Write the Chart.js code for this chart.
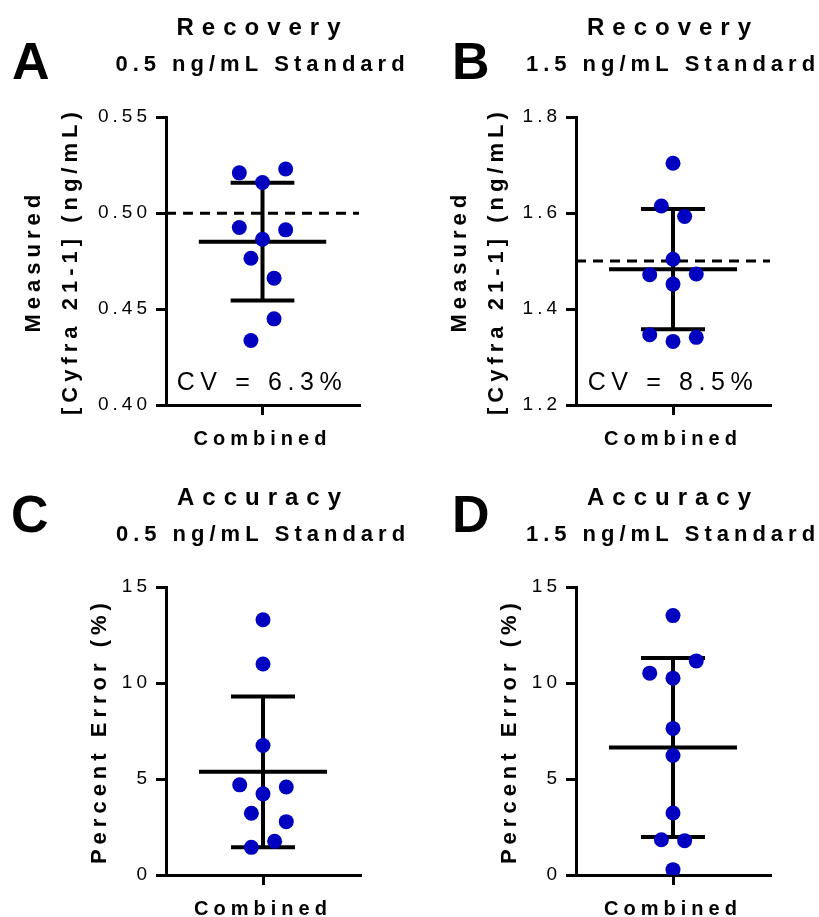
<!DOCTYPE html>
<html>
<head>
<meta charset="utf-8">
<script src="https://cdn.jsdelivr.net/npm/chart.js@4.4.1/dist/chart.umd.min.js"></script>
<style>
  body { margin: 0; background: #fff; }
  #wrap { position: relative; width: 819px; height: 917px; font-family: Arial, "Liberation Sans", sans-serif; color: #000; }
  canvas { position: absolute; }
  .letter { position: absolute; font-size: 52px; font-weight: bold; line-height: 1; }
  .cv { position: absolute; width: 200px; text-align: center; font-size: 25px; letter-spacing: 5.6px; line-height: 1; }
</style>
</head>
<body>
<div id="wrap">
  <canvas id="chartA" width="410" height="460" style="left:0;top:0"></canvas>
  <canvas id="chartB" width="409" height="460" style="left:410px;top:0"></canvas>
  <canvas id="chartC" width="410" height="457" style="left:0;top:460px"></canvas>
  <canvas id="chartD" width="409" height="457" style="left:410px;top:460px"></canvas>
  <div class="letter" style="left:12px;top:35px">A</div>
  <div class="letter" style="left:452px;top:35px">B</div>
  <div class="letter" style="left:11px;top:488px">C</div>
  <div class="letter" style="left:452px;top:488px">D</div>
  <div class="cv" style="left:162px;top:369px">CV = 6.3%</div>
  <div class="cv" style="left:573px;top:369px">CV = 8.5%</div>
</div>
<script>
const categories = ["Combined"];

// measured Cyfra 21-1 (ng/mL)
const recoveryLow = [0.521, 0.523, 0.516, 0.4925, 0.4913, 0.4864, 0.4765, 0.4661, 0.4449, 0.4336];
const recoveryHigh = [1.704, 1.615, 1.593, 1.504, 1.4715, 1.473, 1.452, 1.3465, 1.341, 1.3326];
// percent error (%)
const accuracyLow = [13.3, 11.0, 6.75, 4.7, 4.59, 4.23, 3.22, 2.78, 1.76, 1.44];
const accuracyHigh = [13.52, 11.16, 10.52, 10.26, 7.64, 6.23, 3.23, 1.84, 1.79, 0.28];

// sideways spread of the dots around the column
const jitterRecoveryLow = [-0.24, 0.24, 0, -0.24, 0.24, 0, -0.12, 0.12, 0.12, -0.12];
const jitterRecoveryHigh = [0, -0.12, 0.12, 0, -0.24, 0.24, 0, -0.24, 0.24, 0];
const jitterAccuracyLow = [0, 0, 0, -0.24, 0.24, 0, -0.12, 0.24, 0.12, -0.12];
const jitterAccuracyHigh = [0, 0.24, -0.24, 0, 0, 0, 0, -0.12, 0.12, 0];

const ticksRecoveryLow = ["0.40", "0.45", "0.50", "0.55"];
const ticksRecoveryHigh = ["1.2", "1.4", "1.6", "1.8"];
const ticksAccuracy = ["0", "5", "10", "15"];
const nominal = [0.5, 1.5];

const DOT = "#0000C0";
const MEAN_W = 0.66;
const CAP_W = 0.33;

Chart.defaults.font.family = 'Arial, "Liberation Sans", sans-serif';
Chart.defaults.color = "#000";

// canvas text with letter spacing, picked by font size
const spacing = { 24: 8, 22: 5, 20: 5, 19: 4 };
const spacedText = {
  id: "spacedText",
  beforeDraw(chart) {
    const ctx = chart.ctx;
    if (ctx.spacedPatch) return;
    ctx.spacedPatch = true;
    const fill = ctx.fillText;
    ctx.fillText = function (text, x, y) {
      const m = this.font.match(/([\d.]+)px/);
      const size = m ? Math.round(parseFloat(m[1])) : 0;
      this.letterSpacing = (spacing[size] || 0) + "px";
      fill.call(this, text, x, y);
    };
  }
};

function meanSd(values) {
  const m = values.reduce((a, b) => a + b, 0) / values.length;
  const v = values.reduce((a, b) => a + (b - m) * (b - m), 0) / (values.length - 1);
  return [m, Math.sqrt(v)];
}

function seg(data, extra) {
  return Object.assign({
    data: data,
    showLine: true,
    borderColor: "#000",
    borderWidth: 4,
    pointRadius: 0,
    pointHoverRadius: 0,
    order: 1
  }, extra || {});
}

function makePanel(id, p) {
  const [m, sd] = meanSd(p.values);
  const datasets = [
    {
      data: p.values.map((v, i) => ({ x: p.jitter[i], y: v })),
      pointRadius: 7.5,
      pointHoverRadius: 7.5,
      pointBackgroundColor: DOT,
      pointBorderColor: DOT,
      pointBorderWidth: 0,
      order: 0
    },
    seg([{ x: -MEAN_W, y: m }, { x: MEAN_W, y: m }]),
    seg([{ x: -CAP_W, y: m + sd }, { x: CAP_W, y: m + sd }]),
    seg([{ x: -CAP_W, y: m - sd }, { x: CAP_W, y: m - sd }]),
    seg([{ x: 0, y: m - sd }, { x: 0, y: m + sd }])
  ];
  if (p.nominal !== undefined) {
    datasets.push(seg([{ x: -1, y: p.nominal }, { x: 1, y: p.nominal }], { borderWidth: 3, borderDash: [10, 7], order: 2 }));
  }

  const axisGrid = { drawOnChartArea: false, drawTicks: true, tickLength: 10, color: "#000", lineWidth: 3 };
  const axisBorder = { display: true, color: "#000", width: 3 };

  new Chart(document.getElementById(id), {
    type: "scatter",
    data: { datasets: datasets },
    plugins: [spacedText],
    options: {
      responsive: false,
      animation: false,
      devicePixelRatio: 1,
      layout: { padding: { top: p.top, right: p.right, bottom: p.bottom, left: 0 } },
      plugins: {
        legend: { display: false },
        tooltip: { enabled: false },
        title: {
          display: true, text: p.title, fullSize: false, color: "#000",
          font: { size: 24, weight: "bold" }, padding: { top: 14, bottom: 0 }
        },
        subtitle: {
          display: true, text: p.subtitle, fullSize: false, color: "#000",
          font: { size: 22, weight: "bold" }, padding: { top: 9, bottom: 39 }
        }
      },
      scales: {
        x: {
          type: "linear", min: -1, max: 1,
          afterBuildTicks: (s) => { s.ticks = [{ value: 0 }]; },
          afterFit: (s) => { s.height = p.xHeight; },
          grid: axisGrid,
          border: axisBorder,
          ticks: {
            callback: () => categories[0],
            color: "#000", font: { size: 20, weight: "bold" },
            padding: 12, maxRotation: 0, autoSkip: false
          }
        },
        y: {
          min: p.min, max: p.max,
          afterFit: (s) => { s.width = 166; },
          grid: axisGrid,
          border: axisBorder,
          ticks: {
            stepSize: p.step,
            callback: (v) => p.ticks.find((t) => Math.abs(parseFloat(t) - v) < 1e-6),
            color: "#000", font: { size: 19 }, padding: 5
          },
          title: {
            display: true, text: p.yTitle, color: "#000",
            font: { size: 22, weight: "bold", lineHeight: 1.7 },
            padding: { top: p.yPad, bottom: 0 }
          }
        }
      }
    }
  });
}

makePanel("chartA", {
  values: recoveryLow, jitter: jitterRecoveryLow, nominal: nominal[0],
  min: 0.4, max: 0.55, step: 0.05, ticks: ticksRecoveryLow,
  title: "Recovery", subtitle: "0.5 ng/mL Standard",
  yTitle: ["Measured", "[Cyfra 21-1] (ng/mL)"], yPad: 15,
  top: 0, right: 51, bottom: 5, xHeight: 50
});
makePanel("chartB", {
  values: recoveryHigh, jitter: jitterRecoveryHigh, nominal: nominal[1],
  min: 1.2, max: 1.8, step: 0.2, ticks: ticksRecoveryHigh,
  title: "Recovery", subtitle: "1.5 ng/mL Standard",
  yTitle: ["Measured", "[Cyfra 21-1] (ng/mL)"], yPad: 31,
  top: 0, right: 49, bottom: 5, xHeight: 50
});
makePanel("chartC", {
  values: accuracyLow, jitter: jitterAccuracyLow,
  min: 0, max: 15, step: 5, ticks: ticksAccuracy,
  title: "Accuracy", subtitle: "0.5 ng/mL Standard",
  yTitle: "Percent Error (%)", yPad: 81,
  top: 10, right: 50, bottom: 2, xHeight: 40
});
makePanel("chartD", {
  values: accuracyHigh, jitter: jitterAccuracyHigh,
  min: 0, max: 15, step: 5, ticks: ticksAccuracy,
  title: "Accuracy", subtitle: "1.5 ng/mL Standard",
  yTitle: "Percent Error (%)", yPad: 81,
  top: 10, right: 49, bottom: 2, xHeight: 40
});
</script>
</body>
</html>
